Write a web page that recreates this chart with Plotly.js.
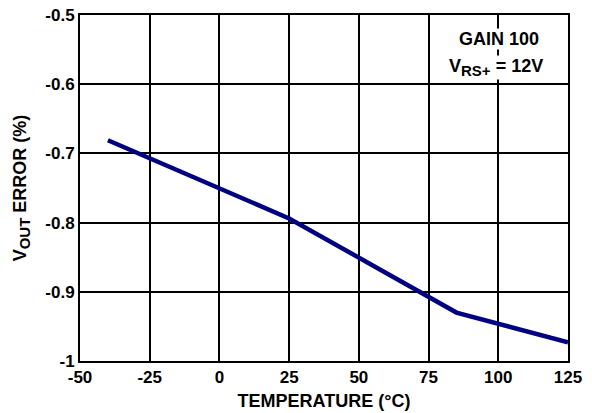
<!DOCTYPE html>
<html>
<head>
<meta charset="utf-8">
<script src="https://cdn.plot.ly/plotly-3.0.1.min.js"></script>
<style>html,body{margin:0;padding:0;background:#fff;}#chart{width:592px;height:413px;}</style>
</head>
<body>
<div id="chart"></div>
<script>
const temperature = [-40, 25, 85, 125];
const voutError = [-0.681, -0.794, -0.930, -0.973];
const xTickVals = [-50, -25, 0, 25, 50, 75, 100, 125];
const xTickText = ["-50", "-25", "0", "25", "50", "75", "100", "125"];
const yTickVals = [-1, -0.9, -0.8, -0.7, -0.6, -0.5];
const yTickText = ["-1", "-0.9", "-0.8", "-0.7", "-0.6", "-0.5"];

const fam = "Liberation Sans, Arial, sans-serif";
const bold = s => "<b>" + s + "</b>";
const sub = s => "<sub><span style=\"font-size:15px\">" + s + "</span></sub>";
const f = size => ({family: fam, size: size, color: "#000", weight: 700});

Plotly.newPlot("chart", [{
  x: temperature, y: voutError, type: "scatter", mode: "lines",
  line: {color: "#000080", width: 4.5}, hoverinfo: "skip"
}], {
  width: 592, height: 413,
  margin: {l: 80, r: 24, t: 15, b: 52},
  paper_bgcolor: "#fff", plot_bgcolor: "#fff",
  showlegend: false,
  font: f(17),
  xaxis: {
    range: [-50, 125], tickvals: xTickVals, ticktext: xTickText.map(bold),
    showgrid: true, gridcolor: "#000", gridwidth: 2,
    showline: true, linecolor: "#000", linewidth: 2, mirror: true,
    zeroline: false, ticks: "", ticklen: 0,
    tickfont: f(17),
    title: {text: bold("TEMPERATURE (°C)"), font: f(18), standoff: 8}
  },
  yaxis: {
    range: [-1, -0.5], tickvals: yTickVals, ticktext: yTickText.map(bold),
    showgrid: true, gridcolor: "#000", gridwidth: 2,
    showline: true, linecolor: "#000", linewidth: 2, mirror: true,
    zeroline: false, ticks: "", ticklen: 0,
    tickfont: f(17),
    title: {text: bold("V" + sub("OUT") + " ERROR (%)"), font: f(18), standoff: 14}
  },
  annotations: [
    {xref: "paper", yref: "paper", x: 0.859, y: 0.931, xanchor: "center", yanchor: "middle",
     text: bold("GAIN 100"), showarrow: false, bgcolor: "#fff", borderpad: 0,
     font: f(18)},
    {xref: "paper", yref: "paper", x: 0.853, y: 0.848, xanchor: "center", yanchor: "middle",
     text: bold("V" + sub("RS+") + " = 12V"), showarrow: false, bgcolor: "#fff", borderpad: 0,
     font: f(18)}
  ]
}, {displayModeBar: false, staticPlot: true});
</script>
</body>
</html>
